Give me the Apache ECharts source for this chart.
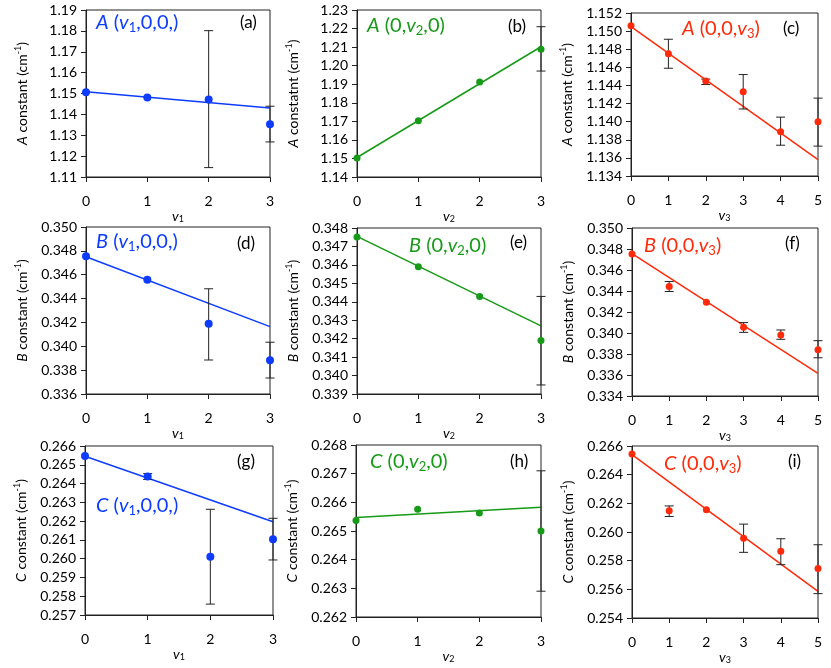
<!DOCTYPE html>
<html>
<head>
<meta charset="utf-8">
<script src="https://cdn.jsdelivr.net/npm/echarts@6/dist/echarts.min.js"></script>
<style>
  html, body { margin: 0; background: #fff; }
  #chart { width: 831px; height: 668px; }
</style>
</head>
<body>
<div id="chart"></div>
<script>
// quantum numbers on the x axes
const v12 = [0, 1, 2, 3];
const v3 = [0, 1, 2, 3, 4, 5];

// A constant (cm-1)
const aV1 = [1.1506, 1.1481, 1.1471, 1.1353];
const aV1Lo = [null, null, 1.1145, 1.1268];
const aV1Hi = [null, null, 1.1801, 1.1439];
const aV1Fit = [1.1508, 1.1431];

const aV2 = [1.1503, 1.1703, 1.1912, 1.2088];
const aV2Lo = [null, null, null, 1.1971];
const aV2Hi = [null, null, null, 1.2210];
const aV2Fit = [1.1505, 1.2102];

const aV3 = [1.1506, 1.1475, 1.1445, 1.1433, 1.1389, 1.1400];
const aV3Lo = [null, 1.1459, 1.1441, 1.1414, 1.1374, 1.1373];
const aV3Hi = [null, 1.1491, 1.1447, 1.1452, 1.1405, 1.1426];
const aV3Fit = [1.1505, 1.1358];

// B constant (cm-1)
const bV1 = [0.34754, 0.34557, 0.34188, 0.33882];
const bV1Lo = [null, null, 0.33885, 0.33734];
const bV1Hi = [null, null, 0.34482, 0.34034];
const bV1Fit = [0.34750, 0.34165];

const bV2 = [0.34751, 0.34590, 0.34429, 0.34190];
const bV2Lo = [null, null, null, 0.33949];
const bV2Hi = [null, null, null, 0.34429];
const bV2Fit = [0.34755, 0.34269];

const bV3 = [0.34752, 0.34443, 0.34293, 0.34054, 0.33981, 0.33841];
const bV3Lo = [null, 0.34395, null, 0.34006, 0.33940, 0.33764];
const bV3Hi = [null, 0.34490, null, 0.34099, 0.34029, 0.33927];
const bV3Fit = [0.34755, 0.33615];

// C constant (cm-1)
const cV1 = [0.26547, 0.26437, 0.26010, 0.26103];
const cV1Lo = [null, 0.26422, 0.25758, 0.25993];
const cV1Hi = [null, 0.26453, 0.26263, 0.26215];
const cV1Fit = [0.26545, 0.26197];

const cV2 = [0.26537, 0.26576, 0.26563, 0.26500];
const cV2Lo = [null, null, null, 0.26290];
const cV2Hi = [null, null, null, 0.26710];
const cV2Fit = [0.26547, 0.26583];

const cV3 = [0.26544, 0.26148, 0.26155, 0.25957, 0.25865, 0.25746];
const cV3Lo = [null, 0.26108, null, 0.25858, 0.25772, 0.25570];
const cV3Hi = [null, 0.26182, null, 0.26055, 0.25953, 0.25911];
const cV3Fit = [0.26540, 0.25586];

const BLUE = "#0d3cff";
const GREEN = "#179a17";
const RED = "#ff2a0a";
const FONT = "Lato";

const panels = [
  { x: v12, y: aV1, lo: aV1Lo, hi: aV1Hi, fit: aV1Fit, rect: [86, 10, 184, 167], yr: [1.11, 1.19, 0.01, 2],
    col: BLUE, size: 8, letter: "A", yword: "constant", sub: "1", label: "{i|A} ({i|v}{s|1},0,0,)", lpos: [96, 12], tag: "(a)", tpos: [240, 15] },
  { x: v12, y: aV2, lo: aV2Lo, hi: aV2Hi, fit: aV2Fit, rect: [357, 10, 184, 167], yr: [1.14, 1.23, 0.01, 2],
    col: GREEN, size: 7, letter: "A", yword: "constatnt", sub: "2", label: "{i|A} (0,{i|v}{s|2},0)", lpos: [367, 15], tag: "(b)", tpos: [508, 19] },
  { x: v3, y: aV3, lo: aV3Lo, hi: aV3Hi, fit: aV3Fit, rect: [631, 13, 187, 163], yr: [1.134, 1.152, 0.002, 3],
    col: RED, size: 7, letter: "A", yword: "constant", sub: "3", label: "{i|A} (0,0,{i|v}{s|3})", lpos: [682, 18], tag: "(c)", tpos: [783, 21] },
  { x: v12, y: bV1, lo: bV1Lo, hi: bV1Hi, fit: bV1Fit, rect: [86, 227, 184, 167], yr: [0.336, 0.350, 0.002, 3],
    col: BLUE, size: 8, letter: "B", yword: "constant", sub: "1", label: "{i|B} ({i|v}{s|1},0,0,)", lpos: [96, 231], tag: "(d)", tpos: [237, 236] },
  { x: v12, y: bV2, lo: bV2Lo, hi: bV2Hi, fit: bV2Fit, rect: [357, 228, 184, 166], yr: [0.339, 0.348, 0.001, 3],
    col: GREEN, size: 7, letter: "B", yword: "constant", sub: "2", label: "{i|B} (0,{i|v}{s|2},0)", lpos: [409, 235], tag: "(e)", tpos: [510, 235] },
  { x: v3, y: bV3, lo: bV3Lo, hi: bV3Hi, fit: bV3Fit, rect: [632, 228, 186, 168], yr: [0.334, 0.350, 0.002, 3],
    col: RED, size: 7, letter: "B", yword: "constant", sub: "3", label: "{i|B} (0,0,{i|v}{s|3})", lpos: [644, 235], tag: "(f)", tpos: [785, 236] },
  { x: v12, y: cV1, lo: cV1Lo, hi: cV1Hi, fit: cV1Fit, rect: [85, 446, 188, 169], yr: [0.257, 0.266, 0.001, 3],
    col: BLUE, size: 8, letter: "C", yword: "constant", sub: "1", label: "{i|C} ({i|v}{s|1},0,0,)", lpos: [96, 495], tag: "(g)", tpos: [237, 454] },
  { x: v12, y: cV2, lo: cV2Lo, hi: cV2Hi, fit: cV2Fit, rect: [356, 445, 185, 172], yr: [0.262, 0.268, 0.001, 3],
    col: GREEN, size: 7, letter: "C", yword: "constant", sub: "2", label: "{i|C} (0,{i|v}{s|2},0)", lpos: [370, 451], tag: "(h)", tpos: [510, 454] },
  { x: v3, y: cV3, lo: cV3Lo, hi: cV3Hi, fit: cV3Fit, rect: [632, 446, 186, 172], yr: [0.254, 0.266, 0.002, 3],
    col: RED, size: 7, letter: "C", yword: "constant", sub: "3", label: "{i|C} (0,0,{i|v}{s|3})", lpos: [664, 453], tag: "(i)", tpos: [788, 454] },
];

const chart = echarts.init(document.getElementById("chart"));

const grid = [], xAxis = [], yAxis = [], series = [], title = [];

// vertical error bar with caps
const errorBar = (params, api) => {
  const hi = api.coord([api.value(0), api.value(2)]);
  const lo = api.coord([api.value(0), api.value(1)]);
  const w = 4.5;
  const style = { stroke: "#222", lineWidth: 1 };
  return {
    type: "group",
    children: [
      { type: "line", shape: { x1: hi[0], y1: hi[1], x2: lo[0], y2: lo[1] }, style },
      { type: "line", shape: { x1: hi[0] - w, y1: hi[1], x2: hi[0] + w, y2: hi[1] }, style },
      { type: "line", shape: { x1: lo[0] - w, y1: lo[1], x2: lo[0] + w, y2: lo[1] }, style },
    ],
  };
};

panels.forEach((p, i) => {
  const [left, top, width, height] = p.rect;
  const xmax = p.x[p.x.length - 1];
  grid.push({ left, top, width, height, show: true, borderColor: "#222", borderWidth: 1, backgroundColor: "transparent" });

  xAxis.push({
    type: "value", gridIndex: i, min: 0, max: xmax, interval: 1,
    axisLine: { lineStyle: { color: "#222" } },
    axisTick: { length: 5, lineStyle: { color: "#222" } },
    splitLine: { show: false },
    axisLabel: { color: "#000", fontFamily: FONT, fontSize: 14, margin: 17 },
    name: "{i|v}{s|" + p.sub + "}", nameLocation: "middle", nameGap: 28,
    nameTextStyle: {
      color: "#000", fontFamily: FONT, fontSize: 14, lineHeight: 15,
      rich: { i: { fontStyle: "italic", fontFamily: FONT, fontSize: 14, lineHeight: 15 },
              s: { fontFamily: FONT, fontSize: 9, lineHeight: 5, verticalAlign: "bottom" } },
    },
  });

  yAxis.push({
    type: "value", gridIndex: i, min: p.yr[0], max: p.yr[1], interval: p.yr[2],
    axisLine: { show: true, lineStyle: { color: "#222" } },
    axisTick: { show: true, length: 5, lineStyle: { color: "#222" } },
    splitLine: { show: false },
    axisLabel: { color: "#000", fontFamily: FONT, fontSize: 14, margin: 9,
                 formatter: (v) => v.toFixed(p.yr[3]) },
    name: "{i|" + p.letter + "} " + p.yword + " (cm{u|-1})", nameLocation: "middle", nameGap: 56,
    nameTextStyle: {
      color: "#000", fontFamily: FONT, fontSize: 14, lineHeight: 16,
      rich: { i: { fontStyle: "italic", fontFamily: FONT, fontSize: 14, lineHeight: 16 },
              u: { fontFamily: FONT, fontSize: 9, lineHeight: 6, verticalAlign: "top" } },
    },
  });

  const errData = [];
  p.x.forEach((x, k) => {
    if (p.lo[k] != null) errData.push([x, p.lo[k], p.hi[k]]);
  });

  series.push({
    type: "line", xAxisIndex: i, yAxisIndex: i, data: [[0, p.fit[0]], [xmax, p.fit[1]]],
    showSymbol: false, symbol: "none", clip: false, silent: true, z: 2,
    lineStyle: { color: p.col, width: 1.5 },
  });
  series.push({
    type: "custom", xAxisIndex: i, yAxisIndex: i, data: errData, renderItem: errorBar,
    encode: { x: 0, y: [1, 2] }, clip: false, silent: true, z: 3,
  });
  series.push({
    type: "scatter", xAxisIndex: i, yAxisIndex: i, data: p.x.map((x, k) => [x, p.y[k]]),
    symbolSize: p.size, clip: false, silent: true, z: 4,
    itemStyle: { color: p.col, opacity: 1 },
  });

  title.push({
    text: p.label, left: p.lpos[0], top: p.lpos[1], padding: 0,
    textStyle: {
      color: p.col, fontFamily: FONT, fontSize: 20, fontWeight: "normal", lineHeight: 22,
      rich: { i: { color: p.col, fontStyle: "italic", fontFamily: FONT, fontSize: 20, lineHeight: 22 },
              s: { color: p.col, fontFamily: FONT, fontSize: 13, lineHeight: 6, verticalAlign: "bottom" } },
    },
  });
  title.push({
    text: p.tag, left: p.tpos[0], top: p.tpos[1] - 1, padding: 0,
    textStyle: { color: "#000", fontFamily: FONT, fontSize: 17, fontWeight: "normal" },
  });
});

chart.setOption({ animation: false, grid, xAxis, yAxis, series, title });
</script>
</body>
</html>
